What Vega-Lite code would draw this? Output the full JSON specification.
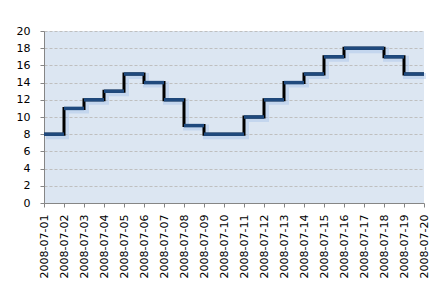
{
  "$schema": "https://vega.github.io/schema/vega-lite/v6.json",
  "width": 380,
  "height": 172,
  "autosize": {"type": "none"},
  "padding": {"left": 44, "top": 31, "right": 21, "bottom": 99},
  "background": "#FFFFFF",
  "config": {
    "view": {"fill": "#DCE6F2", "stroke": null},
    "axis": {
      "labelFont": "DejaVu Sans",
      "labelFontSize": 11,
      "labelColor": "#000000",
      "domainColor": "#868686",
      "tickColor": "#868686",
      "tickSize": 4
    }
  },
  "data": {
    "values": [
      {"date": "2008-07-01", "value": 8},
      {"date": "2008-07-02", "value": 11},
      {"date": "2008-07-03", "value": 12},
      {"date": "2008-07-04", "value": 13},
      {"date": "2008-07-05", "value": 15},
      {"date": "2008-07-06", "value": 14},
      {"date": "2008-07-07", "value": 12},
      {"date": "2008-07-08", "value": 9},
      {"date": "2008-07-09", "value": 8},
      {"date": "2008-07-10", "value": 8},
      {"date": "2008-07-11", "value": 10},
      {"date": "2008-07-12", "value": 12},
      {"date": "2008-07-13", "value": 14},
      {"date": "2008-07-14", "value": 15},
      {"date": "2008-07-15", "value": 17},
      {"date": "2008-07-16", "value": 18},
      {"date": "2008-07-17", "value": 18},
      {"date": "2008-07-18", "value": 17},
      {"date": "2008-07-19", "value": 15},
      {"date": "2008-07-20", "value": 15}
    ]
  },
  "encoding": {
    "x": {
      "field": "date",
      "type": "ordinal",
      "scale": {"type": "point", "padding": 0},
      "axis": {
        "title": null,
        "labelAngle": -90,
        "labelAlign": "right",
        "labelBaseline": "middle",
        "labelPadding": 7,
        "grid": false
      }
    },
    "y": {
      "field": "value",
      "type": "quantitative",
      "scale": {"domain": [0, 20], "nice": false},
      "axis": {
        "title": null,
        "values": [0, 2, 4, 6, 8, 10, 12, 14, 16, 18, 20],
        "labelPadding": 10,
        "grid": true,
        "gridColor": "#BFBFBF",
        "gridDash": [3, 2],
        "gridWidth": 1
      }
    }
  },
  "layer": [
    {
      "mark": {"type": "line", "interpolate": "step-after", "stroke": "#8EB4E3", "strokeWidth": 6, "opacity": 0.3, "xOffset": 2, "yOffset": 2}
    },
    {
      "mark": {"type": "line", "interpolate": "step-after", "stroke": "#000000", "strokeWidth": 3}
    },
    {
      "transform": [
        {"window": [{"op": "lead", "field": "date", "as": "next"}], "sort": [{"field": "date"}]},
        {"filter": "datum.next != null"}
      ],
      "mark": {"type": "rule", "stroke": "#1F497D", "strokeWidth": 3.5, "strokeCap": "butt"},
      "encoding": {
        "x2": {"field": "next"}
      }
    }
  ]
}
